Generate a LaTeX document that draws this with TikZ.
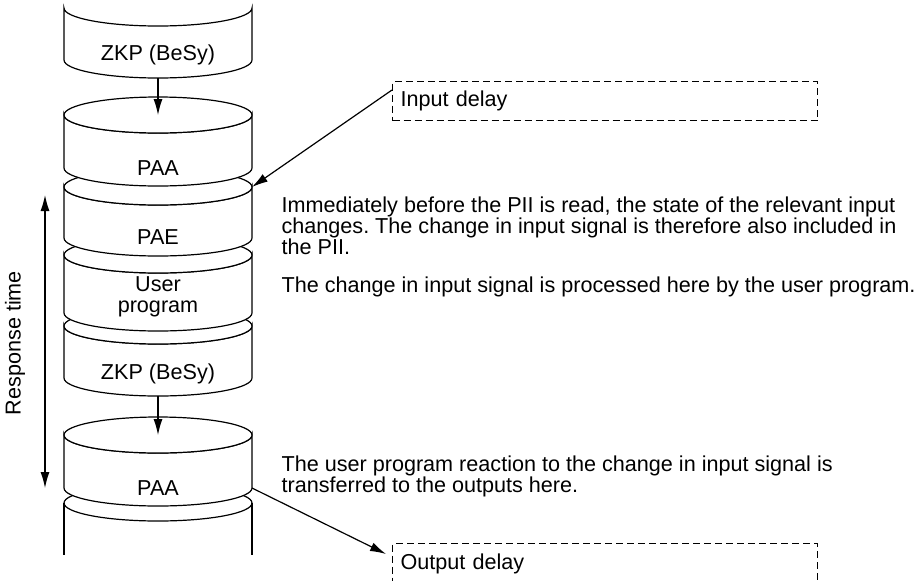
\documentclass[tikz,border=0pt]{standalone}
\usepackage{fontspec}
\setmainfont{Liberation Sans}
\usetikzlibrary{arrows.meta}
\frenchspacing

\begin{document}
\begin{tikzpicture}[x=0.5pt,y=0.5pt,line width=0.6pt,font=\fontsize{10.8pt}{10.5pt}\selectfont]
	% --- Marco: 917 x 580, y hacia abajo (valores negativos) ---
	\useasboundingbox (0,0) rectangle (917,-580);
	\clip (0,0) rectangle (917,-580);
	\tikzset{
		seg/.style={draw=black, fill=white},
		lbl/.style={align=center, inner sep=0pt},
		lead/.style={draw=black, -{Latex[length=8pt,width=4.5pt]}},
		twoway/.style={draw=black, {Latex[length=8pt,width=4.5pt]}-{Latex[length=8pt,width=4.5pt]}},
		delaybox/.style={draw=black, dash pattern=on 3.5pt off 2pt, anchor=north west,
			minimum width=212.5pt, text width=204.5pt, inner xsep=4pt, align=left},
		note/.style={anchor=west, align=left, inner sep=0pt}
	}

	% --- Segmento abierto (abajo) ---
	\filldraw[seg] (158,-503) ellipse[x radius=47pt, y radius=9pt];
	\draw (64,-503) -- (64,-555) (252,-503) -- (252,-555);

	% --- Pila de ciclos: de abajo hacia arriba (\tp=1: tapa completa) ---
	\foreach \id/\yt/\yb/\ty/\tp/\txt in {%
		s6/435/488/488/1/PAA,
		s5/326/378/374/1/ZKP (BeSy),
		s4/255/313/297/1/{User\\program},
		s3/187/238/237/1/PAE,
		s2/115/168/168/1/PAA,
		s1/8/60/55/0/ZKP (BeSy)}
	{
		\filldraw[seg] (64,-\yt) arc[start angle=180, end angle=360, x radius=47pt, y radius=9pt]
			-- (252,-\yb) arc[start angle=0, end angle=-180, x radius=47pt, y radius=9pt] -- cycle;
		\ifnum\tp=1
			\filldraw[seg] (158,-\yt) ellipse[x radius=47pt, y radius=9pt];
		\fi
		\coordinate (\id-t) at (158,-\yt);
		\coordinate (\id-b) at (158,{-\yb-18});
		\coordinate (\id-e) at (252,-\yt);
		\coordinate (\id-se) at (252,-\yb);
		\node[lbl] (\id-lbl) at (158,-\ty) {\txt};
	}

	% --- Flechas entre ciclos ---
	\draw[lead] (s1-b) -- (s2-t);
	\draw[lead] (s5-b) -- (s6-t);

	% --- Tiempo de respuesta ---
	\coordinate (rt-top) at (45,-195);
	\coordinate (rt-bot) at (45,-488);
	\draw[twoway] (rt-top) -- (rt-bot);
	\node[rotate=90, inner sep=0pt] (rt-lbl) at (15,-343) {Response time};

	% --- Retardos ---
	\node[delaybox, minimum height=19.5pt] (indelay) at (392,-81) {Input delay};
	\node[delaybox, minimum height=20pt] (outdelay) at (392,-543) {Output delay};
	\draw[lead] ([yshift=-4.5pt]indelay.north west) -- (s3-e);
	\draw[lead] (s6-se) -- ([xshift=-3pt,yshift=-5.5pt]outdelay.north west);

	% --- Textos ---
	\node[note] (p-read) at (281,-226) {Immediately before the PII is read, the state of the relevant input\\
		changes. The change in input signal is therefore also included in\\the PII.};
	\node[note] (p-proc) at (281,-287) {The change in input signal is processed here by the user program.};
	\node[note] (p-out) at (281,-476) {The user program reaction to the change in input signal is\\
		transferred to the outputs here.};
\end{tikzpicture}
\end{document}
